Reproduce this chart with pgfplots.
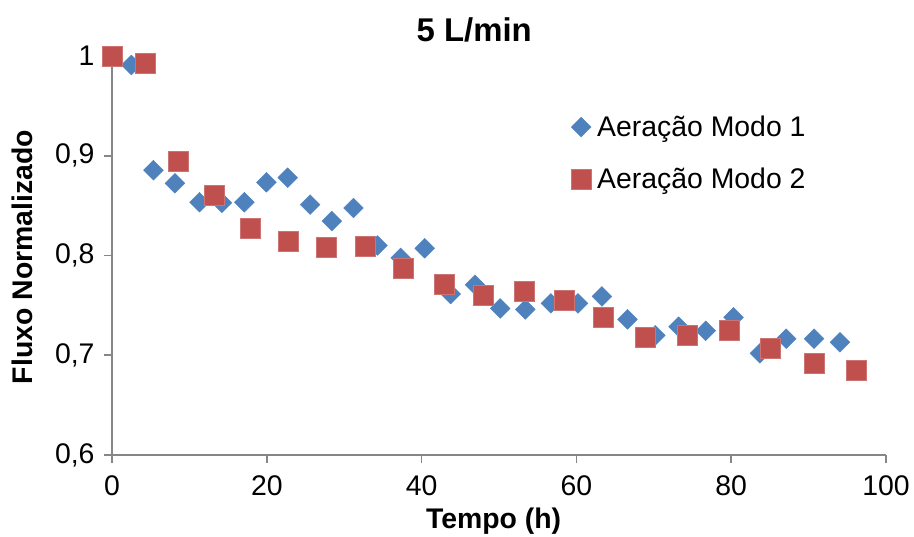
\documentclass[border=0pt]{standalone}
\usepackage{pgfplots}
\pgfplotsset{compat=1.18}
\usepackage{fontspec}
\setmainfont{Liberation Sans}
\definecolor{mblue}{RGB}{79,129,189}
\definecolor{mred}{RGB}{192,80,77}
\definecolor{axgray}{RGB}{134,134,134}
\begin{document}
\begin{tikzpicture}
\useasboundingbox (0,0) rectangle (914bp,537bp);
\begin{axis}[
  at={(112bp,82bp)}, anchor=south west,
  scale only axis, width=774bp, height=399bp,
  xmin=0, xmax=100, ymin=0.6, ymax=1,
  axis lines=left,
  axis line style={-, draw=axgray, line width=1.6bp},
  tick style={draw=axgray, line width=1.6bp},
  tick align=outside,
  major tick length=8bp,
  xtick={0,20,40,60,80,100},
  ytick={0.6,0.7,0.8,0.9,1},
  yticklabels={{0,6},{0,7},{0,8},{0,9},1},
  /pgf/number format/assume math mode=true,
  font=\fontsize{28.5}{34}\selectfont,
  xticklabel style={yshift=-9bp},
  yticklabel style={xshift=-6bp},
  title={\fontsize{33}{38}\selectfont\bfseries 5 L/min},
  title style={at={(axis description cs:0.468,1.05)}, anchor=center},
  xlabel={\bfseries Tempo (h)},
  xlabel style={at={(axis description cs:0.493,-0.165)}, anchor=center},
  ylabel={\bfseries Fluxo Normalizado},
  ylabel style={at={(axis description cs:-0.116,0.496)}, anchor=center, rotate=0},
  legend style={draw=none, fill=none, at={(axis description cs:0.593,0.855)}, anchor=north west,
    font=\fontsize{28.5}{34}\selectfont, row sep=26bp, inner sep=0pt,
    nodes={inner sep=2bp}},
  legend cell align=left,
  legend image code/.code={\path[draw=none,fill=none] (0bp,-0.1bp) rectangle (23bp,0.1bp);\draw[mark repeat=2,mark phase=2,#1] plot coordinates {(0bp,0bp)(9bp,0bp)(20bp,0bp)};},
  clip=false,
]
\addplot[only marks, mark=square*, mark size=7bp, mark options={rotate=45, fill=mblue, draw=mblue}] coordinates {
(0,1.0) (2.5,0.991) (5.35,0.8855) (8.13,0.8724) (11.3,0.8534) (14.2,0.8528)
(17.1,0.8534) (19.95,0.8734) (22.7,0.878) (25.6,0.851) (28.4,0.8345)
(31.2,0.8476) (34.3,0.810) (37.3,0.7976) (40.4,0.8072) (43.75,0.7614)
(46.9,0.7707) (50.15,0.7469) (53.4,0.7459) (56.7,0.752) (60.2,0.752)
(63.3,0.759) (66.6,0.736) (70.2,0.72) (73.2,0.7286) (76.7,0.7245)
(80.3,0.738) (83.7,0.7019) (87.1,0.7166) (90.7,0.7166) (94.05,0.713)
};
\addlegendentry{Aeração Modo 1}
\addplot[only marks, mark=square*, mark size=10bp, mark options={fill=mred, draw=mred!80!white}] coordinates {
(0,1.0) (4.3,0.993) (8.6,0.8948) (13.25,0.8607) (17.9,0.8276) (22.8,0.8141)
(27.7,0.8086) (32.7,0.8097) (37.65,0.7872) (42.9,0.7717) (48.0,0.7607)
(53.2,0.7641) (58.4,0.7552) (63.5,0.7383) (68.9,0.7183) (74.3,0.72)
(79.7,0.7252) (85.1,0.7072) (90.7,0.6924) (96.1,0.6855)
};
\addlegendentry{Aeração Modo 2}
\end{axis}
\end{tikzpicture}
\end{document}
